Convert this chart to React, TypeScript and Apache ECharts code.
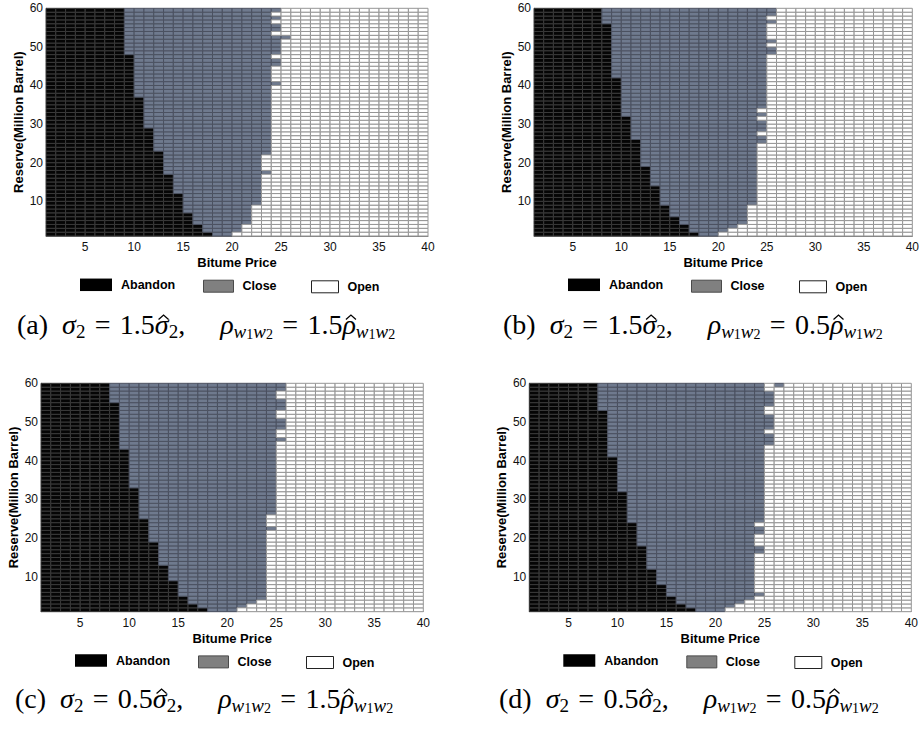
import React, { useEffect, useRef } from "react";
import * as echarts from "echarts";

// ---------- data ----------
const xTicks = [5, 10, 15, 20, 25, 30, 35, 40];
const yTicks = [10, 20, 30, 40, 50, 60];
const priceRange = [1, 40];
const reserveRange = [1, 60];
const stateNames = ["Abandon", "Close", "Open"];

// For reserve rows 1..59: first price column that is no longer "Abandon"
const abandonEndA = [
  18, 17, 17, 16, 16, 16, 15, 15, 15, 15, 15, 14, 14, 14, 14, 14, 13, 13, 13, 13,
  13, 13, 12, 12, 12, 12, 12, 12, 11, 11, 11, 11, 11, 11, 11, 11, 10, 10, 10, 10,
  10, 10, 10, 10, 10, 10, 10, 9, 9, 9, 9, 9, 9, 9, 9, 9, 9, 9, 9,
];
// For reserve rows 1..59: first price column that is "Open"
const openStartA = [
  20, 21, 21, 22, 22, 22, 22, 22, 23, 23, 23, 23, 23, 23, 23, 23, 24, 23, 23, 23,
  23, 24, 24, 24, 24, 24, 24, 24, 24, 24, 24, 24, 24, 24, 24, 24, 24, 24, 24, 25,
  24, 24, 24, 24, 25, 25, 24, 25, 25, 25, 25, 26, 24, 25, 25, 24, 25, 24, 25,
];
const extraCloseA: number[][] = [];

const abandonEndB = [
  18, 17, 17, 16, 16, 15, 15, 15, 14, 14, 14, 14, 14, 13, 13, 13, 13, 13, 12, 12,
  12, 12, 12, 12, 12, 11, 11, 11, 11, 11, 11, 10, 10, 10, 10, 10, 10, 10, 10, 10,
  10, 9, 9, 9, 9, 9, 9, 9, 9, 9, 9, 9, 9, 9, 9, 8, 8, 8, 8,
];
const openStartB = [
  20, 21, 22, 23, 23, 23, 23, 23, 24, 24, 24, 24, 24, 24, 24, 24, 24, 24, 24, 24,
  24, 24, 24, 24, 25, 25, 24, 25, 25, 25, 24, 25, 24, 25, 25, 25, 25, 25, 25, 25,
  25, 25, 25, 25, 25, 25, 25, 26, 26, 25, 26, 25, 25, 25, 25, 26, 25, 26, 26,
];
const extraCloseB: number[][] = [];

const abandonEndC = [
  18, 17, 16, 16, 15, 15, 15, 15, 14, 14, 14, 14, 13, 13, 13, 13, 13, 13, 12, 12,
  12, 12, 12, 12, 11, 11, 11, 11, 11, 11, 11, 11, 10, 10, 10, 10, 10, 10, 10, 10,
  10, 10, 9, 9, 9, 9, 9, 9, 9, 9, 9, 9, 9, 9, 8, 8, 8, 8, 8,
];
const openStartC = [
  21, 22, 23, 24, 24, 24, 24, 24, 24, 24, 24, 24, 24, 24, 24, 24, 24, 24, 24, 24,
  24, 25, 24, 24, 24, 25, 25, 25, 25, 25, 25, 25, 25, 25, 25, 25, 25, 25, 25, 25,
  25, 25, 25, 25, 26, 25, 25, 26, 26, 26, 25, 25, 26, 26, 26, 25, 25, 26, 26,
];
const extraCloseC: number[][] = [];

const abandonEndD = [
  18, 17, 16, 16, 15, 15, 15, 14, 14, 14, 14, 13, 13, 13, 13, 13, 13, 12, 12, 12,
  12, 12, 12, 11, 11, 11, 11, 11, 11, 11, 11, 10, 10, 10, 10, 10, 10, 10, 10, 10,
  9, 9, 9, 9, 9, 9, 9, 9, 9, 9, 9, 9, 8, 8, 8, 8, 8, 8, 8,
];
const openStartD = [
  21, 22, 23, 24, 25, 24, 24, 24, 24, 24, 24, 24, 24, 24, 24, 25, 25, 24, 24, 24,
  25, 25, 24, 25, 25, 25, 25, 25, 25, 25, 25, 25, 25, 25, 25, 25, 25, 25, 25, 25,
  25, 25, 25, 26, 26, 26, 25, 26, 26, 26, 26, 25, 25, 26, 26, 26, 26, 25, 25,
];
const extraCloseD = [[26, 59]]; // [price, reserve] cell that is "Close"

const captionLetters = ["a", "b", "c", "d"];
const sigmaFactors = ["1.5", "1.5", "0.5", "0.5"];
const rhoFactors = ["1.5", "0.5", "1.5", "0.5"];

const panelData = [
  { abandonEnd: abandonEndA, openStart: openStartA, extra: extraCloseA },
  { abandonEnd: abandonEndB, openStart: openStartB, extra: extraCloseB },
  { abandonEnd: abandonEndC, openStart: openStartC, extra: extraCloseC },
  { abandonEnd: abandonEndD, openStart: openStartD, extra: extraCloseD },
];

// ---------- layout / style ----------
const GRIDS = [
  { left: 46, top: 8.3, width: 382, height: 227.7 },
  { left: 534, top: 8.3, width: 382, height: 227.7 },
  { left: 41, top: 383.3, width: 382.3, height: 228.4 },
  { left: 529.3, top: 383.3, width: 382, height: 228.4 },
];
const CAPTION_POS = [
  { left: 17, top: 307 },
  { left: 503, top: 307 },
  { left: 15, top: 681 },
  { left: 499, top: 681 },
];
const FILL = ["#050505", "#6f7a8e", "#ffffff"];
const STROKE = ["#3a3a3a", "#4b5160", "#959595"];
const LEGEND_STYLE = [
  { color: "#000000", borderColor: "#000000", borderWidth: 0 },
  { color: "#808080", borderColor: "#4a4a4a", borderWidth: 1 },
  { color: "#ffffff", borderColor: "#222222", borderWidth: 1 },
];
const LEGEND_DX = [34, 157, 265];
const LEGEND_DY = [42.3, 43.7, 44.3];
const LEGEND_W = [32, 30, 27];
const LEGEND_H = [12.5, 12, 12];
const SANS = "'Liberation Sans', Arial, Helvetica, sans-serif";
const SERIF = "'Liberation Serif', 'Times New Roman', serif";
const CAP_LH = 34;

const RICH: Record<string, any> = {
  t: { fontFamily: SERIF, fontStyle: "normal", fontWeight: "normal", fontSize: 28, color: "#000", lineHeight: CAP_LH, verticalAlign: "middle" },
  i: { fontFamily: SERIF, fontStyle: "italic", fontWeight: "normal", fontSize: 28, color: "#000", lineHeight: CAP_LH, verticalAlign: "middle" },
  sd: { fontFamily: SERIF, fontStyle: "normal", fontWeight: "normal", fontSize: 19, color: "#000", lineHeight: 18, verticalAlign: "bottom" },
  sw: { fontFamily: SERIF, fontStyle: "italic", fontWeight: "normal", fontSize: 19, color: "#000", lineHeight: 18, verticalAlign: "bottom" },
  ssd: { fontFamily: SERIF, fontStyle: "normal", fontWeight: "normal", fontSize: 14, color: "#000", lineHeight: 8, verticalAlign: "bottom" },
};

function buildCells(aEnd: number[], oStart: number[], extra: number[][]) {
  const cells: number[][][] = [[], [], []];
  for (let r = reserveRange[0]; r < reserveRange[1]; r++) {
    for (let c = priceRange[0]; c < priceRange[1]; c++) {
      const i = r - reserveRange[0];
      let s = c < aEnd[i] ? 0 : c < oStart[i] ? 1 : 2;
      if (extra.some((e) => e[0] === c && e[1] === r)) s = 1;
      cells[s].push([c, r]);
    }
  }
  return cells;
}

type Tok = [string, string, boolean?];
function captionTokens(i: number): Tok[] {
  const eq = "\u2004=\u2004";
  return [
    ["t", `(${captionLetters[i]})  `],
    ["i", "σ"],
    ["sd", "2"],
    ["t", `${eq}${sigmaFactors[i]}`],
    ["i", "σ", true],
    ["sd", "2"],
    ["t", ",     "],
    ["i", "ρ"],
    ["sw", "w"],
    ["ssd", "1"],
    ["sw", "w"],
    ["ssd", "2"],
    ["t", `${eq}${rhoFactors[i]}`],
    ["i", "ρ", true],
    ["sw", "w"],
    ["ssd", "1"],
    ["sw", "w"],
    ["ssd", "2"],
  ];
}

let measureCtx: CanvasRenderingContext2D | null = null;
function measure(text: string, st: any) {
  if (!measureCtx) measureCtx = document.createElement("canvas").getContext("2d");
  measureCtx!.font = `${st.fontStyle} ${st.fontWeight} ${st.fontSize}px ${st.fontFamily}`;
  return measureCtx!.measureText(text).width;
}

function buildOption() {
  const grid: any[] = [];
  const xAxis: any[] = [];
  const yAxis: any[] = [];
  const series: any[] = [];
  const legend: any[] = [];
  const title: any[] = [];
  const graphic: any[] = [];

  GRIDS.forEach((g, p) => {
    grid.push({ ...g, containLabel: false });
    xAxis.push({
      type: "value",
      gridIndex: p,
      min: priceRange[0],
      max: priceRange[1],
      name: "Bitume Price",
      nameLocation: "middle",
      nameGap: 20,
      nameTextStyle: { fontFamily: SANS, fontWeight: "bold", fontSize: 13, color: "#000" },
      axisLine: { show: true, lineStyle: { color: "#7a7a7a", width: 1 } },
      axisTick: { show: false },
      splitLine: { show: false },
      axisLabel: { customValues: xTicks, fontFamily: SANS, fontSize: 12, color: "#111", margin: 5 },
    });
    yAxis.push({
      type: "value",
      gridIndex: p,
      min: reserveRange[0],
      max: reserveRange[1],
      name: "Reserve(Million Barrel)",
      nameLocation: "middle",
      nameGap: 21,
      nameTextStyle: { fontFamily: SANS, fontWeight: "bold", fontSize: 13, color: "#000" },
      axisLine: { show: true, lineStyle: { color: "#7a7a7a", width: 1 } },
      axisTick: { show: false },
      splitLine: { show: false },
      axisLabel: { customValues: yTicks, fontFamily: SANS, fontSize: 12, color: "#111", margin: 3 },
    });

    const d = panelData[p];
    const cells = buildCells(d.abandonEnd, d.openStart, d.extra);
    stateNames.forEach((name, s) => {
      series.push({
        type: "custom",
        name,
        xAxisIndex: p,
        yAxisIndex: p,
        data: cells[s],
        encode: { x: 0, y: 1 },
        itemStyle: { color: LEGEND_STYLE[s].color },
        renderItem: (params: any, api: any) => {
          const x = api.value(0);
          const y = api.value(1);
          const p0 = api.coord([x, y + 1]);
          const p1 = api.coord([x + 1, y]);
          return {
            type: "rect",
            shape: { x: p0[0], y: p0[1], width: p1[0] - p0[0], height: p1[1] - p0[1] },
            style: { fill: FILL[s], stroke: STROKE[s], lineWidth: 1 },
          };
        },
      });
      legend.push({
        data: [{ name, icon: "rect", itemStyle: LEGEND_STYLE[s] }],
        left: g.left + LEGEND_DX[s],
        top: g.top + g.height + LEGEND_DY[s],
        padding: 0,
        itemWidth: LEGEND_W[s],
        itemHeight: LEGEND_H[s],
        selectedMode: false,
        textStyle: { fontFamily: SANS, fontWeight: "bold", fontSize: 12.5, color: "#000", padding: [0, 0, 0, 4] },
      });
    });

    // caption (rich text) + hats drawn as small strokes over the marked symbols
    const toks = captionTokens(p);
    const pos = CAPTION_POS[p];
    let x = pos.left;
    toks.forEach(([st, text, hat]) => {
      const w = measure(text, RICH[st]);
      if (hat) {
        const cx = x + w / 2 + 1.8;
        const yb = pos.top + 12.5;
        graphic.push({
          type: "polyline",
          silent: true,
          shape: { points: [[cx - 5, yb], [cx, yb - 4.5], [cx + 5, yb]] },
          style: { stroke: "#000", lineWidth: 1.3, fill: null },
        });
      }
      x += w;
    });
    title.push({
      text: toks.map(([st, text]) => `{${st}|${text}}`).join(""),
      left: pos.left,
      top: pos.top,
      padding: 0,
      textStyle: { fontWeight: "normal", fontFamily: SERIF, rich: RICH },
    });
  });

  return {
    animation: false,
    backgroundColor: "#ffffff",
    grid,
    xAxis,
    yAxis,
    series,
    legend,
    title,
    graphic,
  };
}

export default function App() {
  const ref = useRef<HTMLDivElement>(null);
  useEffect(() => {
    if (!ref.current) return;
    const chart = echarts.init(ref.current, undefined, { renderer: "svg" });
    chart.setOption(buildOption() as any);
    return () => chart.dispose();
  }, []);
  return (
    <div
      ref={ref}
      style={{ position: "fixed", left: 0, top: 0, width: 922, height: 732, background: "#fff" }}
    />
  );
}
